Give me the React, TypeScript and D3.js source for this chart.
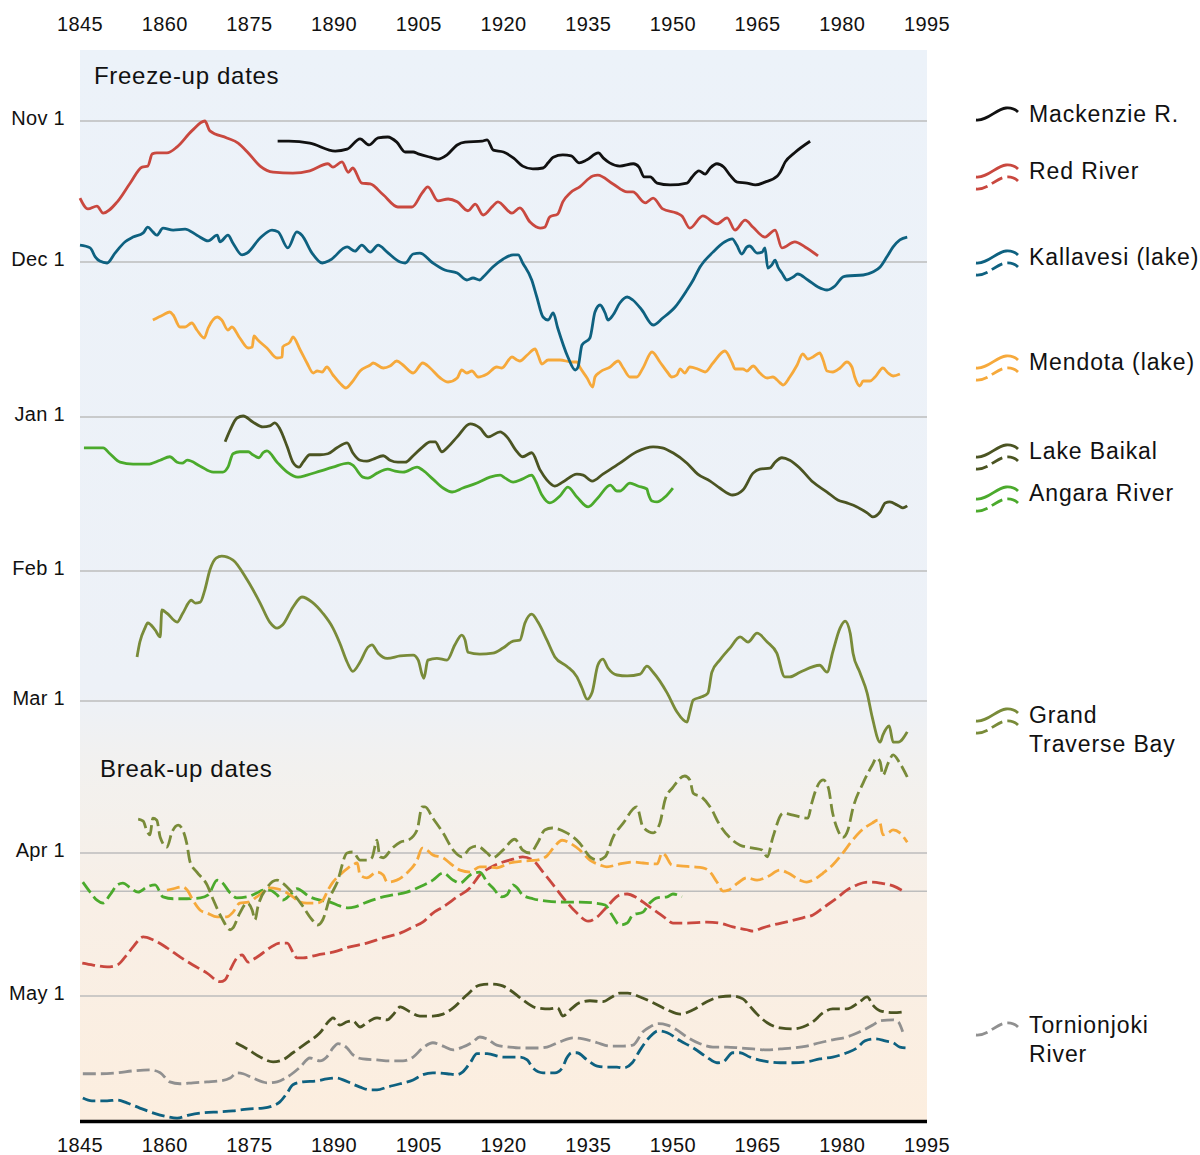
import React from 'react';
import * as d3 from 'd3';

// ---------- data: [year, days after Nov 1] ----------
const yearTicks = [1845, 1860, 1875, 1890, 1905, 1920, 1935, 1950, 1965, 1980, 1995];
const dateTickDays = [0, 30, 61, 92, 120, 151, 181];
const dateTickLabels = ['Nov 1', 'Dec 1', 'Jan 1', 'Feb 1', 'Mar 1', 'Apr 1', 'May 1'];
const extraGridDays = [159];

const mackenzieFreeze = [[1880.0,4.3],[1882,4.3],[1885.7,4.7],[1890.2,6.4],[1892.3,6.0],[1894.6,3.8],[1896.2,5.1],[1897.8,3.6],[1899.5,3.4],[1901.1,4.5],[1902.6,6.6],[1904,6.6],[1904.9,7.0],[1907,7.7],[1908.4,8.1],[1910,7.2],[1911.8,5.1],[1913.2,4.5],[1916.2,4.3],[1917.1,4.0],[1918.2,6.2],[1920,6.6],[1921.8,7.9],[1923.4,9.6],[1925.2,10.2],[1927,10.0],[1927.9,8.9],[1928.8,7.7],[1930.5,7.2],[1932,7.4],[1933.4,8.9],[1934.7,8.3],[1936.8,6.8],[1937.7,7.9],[1938.8,8.9],[1940.6,9.6],[1943,9.1],[1944,9.8],[1944.9,11.9],[1946,11.9],[1947.2,13.2],[1949.5,13.6],[1952.5,13.2],[1953.4,11.9],[1954.6,10.6],[1955.7,11.3],[1956.6,10.0],[1957.8,9.1],[1959,9.8],[1960.1,11.5],[1961.4,13.0],[1963.1,13.2],[1964.6,13.6],[1966.3,13.0],[1968.5,11.7],[1969,10.9],[1969.9,8.7],[1971.5,6.8],[1974.3,4.3]];

const redFreeze = [[1845,16.4],[1846.4,18.7],[1848,18.1],[1849.1,19.6],[1851.6,17.2],[1853.9,13.2],[1856,9.8],[1857,9.6],[1857.8,7.0],[1858.6,6.8],[1860.4,6.8],[1862.2,5.5],[1864.8,2.1],[1867.1,0.0],[1868,2.1],[1871,3.6],[1873,4.7],[1874.8,6.8],[1876.9,9.6],[1879.2,10.9],[1882.7,11.1],[1885.7,10.6],[1888.9,9.1],[1889.8,9.8],[1891.4,8.7],[1892.5,10.9],[1893.3,10.0],[1894.9,13.2],[1896.4,13.4],[1898.7,15.7],[1901.3,18.3],[1903.8,18.3],[1905.6,15.3],[1906.6,14.0],[1908.4,17.0],[1910.2,16.6],[1911.8,17.2],[1913.7,19.1],[1915,17.7],[1916.4,20.0],[1918.1,18.1],[1919,17.2],[1921.5,19.6],[1922.9,18.5],[1924.7,21.5],[1926.5,22.8],[1927.3,22.6],[1928.2,20.4],[1929.6,19.8],[1930.5,17.2],[1931.8,15.3],[1933.5,14.0],[1935.8,11.7],[1936.7,11.5],[1939.4,13.4],[1941.9,15.1],[1942.9,15.1],[1945.1,17.4],[1946.5,16.4],[1948.2,18.7],[1950.7,19.6],[1951.6,20.2],[1953,22.8],[1955.3,20.2],[1957.8,21.9],[1959.6,20.6],[1961,23.2],[1962.8,21.1],[1964.2,22.6],[1966.3,24.7],[1968.1,23.2],[1969.3,27.0],[1971.6,25.7],[1973.4,26.8],[1975.7,28.7]];

const kallavesiFreeze = [[1845,26.4],[1846.8,27.0],[1847.7,28.9],[1848.5,29.8],[1849.8,30.2],[1851.2,28.1],[1853,25.7],[1854.4,24.7],[1856.2,23.8],[1857,22.6],[1857.9,23.6],[1858.6,24.3],[1859.7,22.8],[1861.5,23.2],[1863.6,23.0],[1865.7,24.3],[1867.7,25.5],[1869.3,24.3],[1869.8,25.7],[1871.2,24.3],[1872.1,26.0],[1873.7,28.5],[1874.6,28.1],[1876.9,24.9],[1879,23.2],[1880.1,23.6],[1881.8,27.0],[1883.4,23.6],[1884.3,24.3],[1886.1,28.1],[1887.9,30.2],[1889.3,29.6],[1892.3,26.8],[1893.7,27.7],[1894.9,26.4],[1896.4,27.9],[1897.8,26.4],[1899.4,27.9],[1901.7,30.0],[1902.6,30.2],[1904,28.3],[1905.2,28.1],[1907.5,30.2],[1909.6,31.6],[1911.8,32.2],[1913.5,33.6],[1914.6,33.2],[1915.8,33.6],[1916.4,33.0],[1918.1,31.0],[1919.9,29.4],[1921.7,28.5],[1922.6,28.5],[1923.4,30.2],[1925,33.6],[1925.9,37.0],[1927,41.0],[1927.9,41.6],[1928.8,40.2],[1929.6,43.2],[1931.4,49.0],[1932.7,51.6],[1933.2,51.0],[1933.9,46.6],[1935.3,45.2],[1936.2,40.0],[1937.1,38.6],[1938,40.2],[1938.5,41.6],[1939.4,40.6],[1940.6,38.2],[1941.9,37.0],[1942.9,37.6],[1944.5,39.6],[1946.5,42.6],[1948.2,41.2],[1950.4,39.0],[1952.5,35.6],[1953.6,33.6],[1954.8,31.0],[1957.1,27.9],[1959.2,25.7],[1960.5,25.1],[1961.3,26.4],[1962.2,28.3],[1963.1,26.8],[1963.6,26.6],[1964.9,28.1],[1965.8,27.9],[1966.3,27.0],[1966.8,31.2],[1967.5,30.6],[1968.1,29.6],[1968.6,31.0],[1969.3,32.2],[1970.2,33.6],[1971.3,33.0],[1972.1,32.4],[1973.9,33.6],[1975.7,35.0],[1977.3,35.6],[1978.7,34.8],[1980.1,33.0],[1980.8,32.8],[1983.7,32.6],[1985.4,32.0],[1986.7,31.0],[1987.9,28.9],[1989,26.8],[1990.2,25.3],[1991.5,24.7]];

const mendotaFreeze = [[1857.9,41.6],[1859.7,40.6],[1860.9,40.0],[1861.5,40.6],[1862.7,43.0],[1863.6,43.0],[1864.8,42.2],[1865.7,43.6],[1867,45.2],[1867.7,43.2],[1869.3,41.0],[1870.1,41.6],[1871.2,43.6],[1871.9,43.0],[1873.3,45.2],[1874.8,47.2],[1875.5,47.0],[1875.8,44.8],[1876.5,45.6],[1878.1,47.2],[1879.9,49.2],[1880.8,49.0],[1880.9,47.0],[1882.2,46.0],[1882.7,45.0],[1884,47.6],[1885.2,50.2],[1886.3,52.2],[1887,51.8],[1887.9,52.0],[1888.7,51.0],[1889.8,52.6],[1891,54.2],[1892.1,55.2],[1893.2,54.0],[1894.6,51.8],[1896.4,50.6],[1896.9,50.2],[1898.7,51.2],[1899.9,50.8],[1901.1,49.8],[1902.2,50.6],[1904,52.2],[1905.7,50.2],[1907,51.2],[1908.8,53.2],[1910.2,54.0],[1911.8,53.2],[1912.6,51.6],[1913.5,52.2],[1914.4,51.8],[1915.5,53.0],[1917.1,52.4],[1918.8,51.0],[1919.7,51.2],[1921.5,49.0],[1922.4,49.6],[1922.9,49.8],[1924.2,48.6],[1925.6,47.4],[1926.1,48.6],[1926.8,50.4],[1927.9,49.6],[1930,49.6],[1932.1,50.0],[1933,50.0],[1933.5,51.0],[1934.8,53.2],[1935.8,55.0],[1936.2,53.0],[1937.1,52.0],[1938.9,51.0],[1940.3,49.8],[1941.2,51.2],[1942.4,53.0],[1943.6,53.0],[1944.7,51.2],[1946.3,48.0],[1947.7,50.0],[1949,52.0],[1949.8,53.0],[1950.7,52.6],[1951.3,51.4],[1952.1,52.2],[1953,51.0],[1954.4,51.4],[1955.7,52.0],[1957.1,50.2],[1959.2,47.8],[1960.5,50.2],[1961,51.4],[1962.4,51.4],[1963.1,51.8],[1964.2,50.8],[1965.4,52.2],[1966.7,53.2],[1967.7,53.0],[1969,54.2],[1969.5,54.6],[1970.7,53.0],[1972,50.6],[1973,48.4],[1973.9,49.4],[1974.8,49.0],[1976,48.2],[1976.6,49.6],[1977.3,51.8],[1978.3,52.0],[1979.6,51.2],[1980.8,50.0],[1981.7,51.0],[1982.2,53.0],[1983.1,54.8],[1983.7,53.8],[1984.9,53.8],[1985.8,53.0],[1987.2,51.2],[1988.1,52.2],[1989,52.8],[1990.2,52.4]];

const baikalFreeze = [[1870.7,66.0],[1871.6,63.6],[1872.8,61.2],[1873.9,60.8],[1875.6,62.0],[1877.4,63.0],[1878.6,62.8],[1879.5,62.2],[1880.4,63.4],[1881.7,67.0],[1882.7,70.1],[1883.8,71.1],[1884.5,70.1],[1885.7,68.6],[1887.5,68.6],[1888.9,68.4],[1890.5,67.2],[1892.3,66.2],[1893.3,68.2],[1894.6,69.7],[1895.8,69.9],[1896.9,69.5],[1898.7,68.8],[1899.9,69.7],[1901.3,70.1],[1902.6,70.1],[1904,68.8],[1905.7,67.0],[1907,66.0],[1907.9,66.0],[1909.1,68.0],[1910.2,67.0],[1911.8,65.0],[1914.1,62.4],[1915.8,63.2],[1917.3,65.0],[1919.4,64.0],[1920.6,65.0],[1922.4,68.0],[1923.4,69.0],[1925,68.2],[1926.5,71.7],[1927.7,73.7],[1929.1,74.9],[1930.5,74.1],[1933,72.5],[1934.1,72.7],[1935.7,73.9],[1937.6,72.5],[1940.6,70.3],[1943.6,68.0],[1946.5,67.0],[1948.1,67.2],[1950,68.2],[1952.5,70.3],[1954.4,72.5],[1956.6,73.9],[1958.3,75.3],[1960.6,76.7],[1962.4,75.7],[1964.2,72.3],[1965.4,71.5],[1967.2,71.3],[1968.1,70.1],[1969.3,69.2],[1970.7,69.7],[1972.5,71.3],[1974.8,74.1],[1977.3,76.1],[1979.2,77.7],[1980.8,78.3],[1982.6,79.1],[1984.4,80.3],[1985.4,81.1],[1986.7,80.1],[1987.6,78.3],[1988.4,78.1],[1989.7,78.7],[1990.7,79.3],[1991.5,78.9]];

const angaraFreeze = [[1845.7,67.2],[1849.1,67.2],[1850.3,68.4],[1852.1,70.1],[1854.4,70.5],[1857,70.5],[1859.2,69.7],[1860.9,69.0],[1862.2,70.1],[1863.1,70.3],[1864,69.7],[1866.3,70.9],[1868.6,72.1],[1870.3,72.1],[1871.2,71.1],[1872.1,68.4],[1873.3,68.0],[1874.8,68.0],[1875.6,68.6],[1876.7,69.2],[1877.4,68.2],[1878.1,67.8],[1879.9,70.1],[1881.7,72.1],[1883.6,73.1],[1885.2,72.7],[1887.5,71.9],[1889.8,71.1],[1892.5,70.3],[1893.3,70.7],[1895.1,73.1],[1896,73.3],[1897.6,72.3],[1899.5,71.5],[1900.8,71.9],[1902.2,72.1],[1904.7,71.1],[1905.7,71.7],[1907.5,73.5],[1909.3,75.3],[1910.9,76.1],[1912.8,75.3],[1915.3,74.3],[1917.6,73.1],[1919.4,72.7],[1920.3,73.3],[1921.7,74.1],[1923.3,73.5],[1925,72.7],[1925.6,73.7],[1926.8,76.7],[1928.2,78.3],[1930,76.9],[1931.4,75.1],[1933,77.1],[1935,79.1],[1936.7,77.3],[1938.9,74.7],[1940.1,75.9],[1940.6,75.9],[1942.4,74.3],[1943.8,74.9],[1945.4,75.5],[1945.6,76.3],[1946.3,77.9],[1947.2,78.1],[1948.6,77.1],[1950,75.3]];

const gtbFreeze = [[1855.1,110.5],[1855.6,107.3],[1856.5,104.3],[1857,103.2],[1858.3,104.7],[1859.2,106.2],[1859.5,100.4],[1860.4,101.1],[1862.2,103.0],[1863.2,101.1],[1864.7,98.3],[1865.4,98.9],[1866.3,98.7],[1867.1,96.1],[1868,91.8],[1869.1,89.4],[1870.1,89.0],[1872.1,89.8],[1874.6,93.9],[1876.9,98.9],[1878.6,103.0],[1879.9,104.3],[1880.9,103.6],[1882.7,99.8],[1884.3,97.6],[1886.1,98.7],[1888,101.1],[1889.8,104.3],[1891,107.5],[1892.3,111.6],[1893.3,113.6],[1894.6,111.6],[1896,108.4],[1896.7,107.9],[1897.8,109.7],[1899.4,110.8],[1901.7,110.3],[1904,110.1],[1904.9,111.2],[1905.6,114.4],[1905.9,115.1],[1906.6,111.2],[1908.2,110.8],[1910,111.2],[1911.4,107.9],[1912.6,105.8],[1913.2,106.9],[1913.7,109.5],[1915.8,109.9],[1918.1,109.7],[1919.9,108.6],[1921.7,107.1],[1922.9,106.9],[1923.8,103.2],[1925,101.3],[1926.1,103.0],[1927.7,106.9],[1929.1,110.5],[1931.2,112.5],[1933,114.8],[1933.9,117.2],[1934.8,119.6],[1935.7,118.1],[1936.7,112.3],[1937.6,111.0],[1938.5,112.9],[1940.1,114.4],[1941.9,114.6],[1944.2,114.2],[1945.4,112.5],[1946.5,113.8],[1949,118.3],[1950.7,122.2],[1952.5,124.3],[1953,122.2],[1953.6,119.8],[1955.1,119.1],[1956.2,118.3],[1956.9,113.8],[1958.3,111.2],[1960.1,108.6],[1961.9,106.2],[1963.3,107.3],[1964.9,105.4],[1966.7,107.3],[1968.4,109.7],[1969.8,114.8],[1970.7,114.8],[1972.5,113.8],[1976,112.3],[1977.3,113.8],[1978.3,109.5],[1979.6,104.3],[1980.5,102.8],[1981.4,105.4],[1981.9,109.7],[1983.1,113.8],[1984.4,118.3],[1985.3,123.3],[1986.7,128.4],[1987.2,126.9],[1988.3,125.1],[1989,128.4],[1989.9,128.4],[1991.5,126.3]];

const gtbBreak = [[1855.3,144.1],[1856.2,144.5],[1856.9,146.7],[1857.4,147.3],[1857.9,143.9],[1858.6,144.3],[1859.2,147.8],[1860.4,149.8],[1861.3,146.7],[1862.4,145.3],[1863.2,146.3],[1863.9,149.0],[1864.5,152.9],[1865.7,155.0],[1867.5,157.7],[1868.6,160.8],[1870.1,164.6],[1871.6,167.1],[1872.1,166.7],[1873.3,163.6],[1874.6,161.5],[1875.5,163.0],[1876,165.0],[1876.5,162.3],[1878.1,158.3],[1879.9,156.7],[1880.9,157.3],[1882.5,159.2],[1884.3,161.9],[1886.1,165.0],[1887.1,166.1],[1888,165.0],[1889.3,160.2],[1890.5,157.3],[1892.3,151.0],[1893.3,150.8],[1894.6,152.5],[1895.8,152.5],[1896.7,152.0],[1897.6,148.4],[1898.1,151.8],[1898.7,152.0],[1900.3,150.0],[1901.7,148.8],[1903.1,148.4],[1904.7,146.3],[1905.6,141.6],[1906.1,141.6],[1907.5,143.9],[1909.3,146.9],[1911.1,150.4],[1912.6,151.8],[1914.1,150.0],[1915.3,149.6],[1917.1,151.0],[1918.1,152.0],[1919.9,150.4],[1922,148.2],[1923.4,150.4],[1924.7,151.0],[1926.1,148.8],[1927.3,146.3],[1928.6,145.9],[1931.2,146.9],[1933.5,149.0],[1935.3,151.8],[1936.7,152.5],[1938,151.8],[1939.4,147.8],[1941.2,144.9],[1943.6,141.6],[1944.7,145.7],[1946.5,146.9],[1947.7,144.9],[1948.6,140.2],[1950,137.6],[1952.1,135.3],[1953,136.1],[1953.6,138.8],[1955.1,139.6],[1956.6,141.6],[1958.3,145.3],[1960.1,147.9],[1961.9,149.4],[1964.2,150.0],[1965.8,150.4],[1966.7,151.8],[1967.7,147.8],[1969.5,142.9],[1971.3,143.3],[1973.9,143.9],[1974.6,140.8],[1975.5,137.6],[1976.6,136.1],[1977.5,137.6],[1978.3,142.9],[1979.2,146.3],[1980.1,147.8],[1981,146.3],[1981.9,141.8],[1983.7,136.7],[1985.3,133.1],[1986.1,131.6],[1986.7,132.4],[1987.2,135.1],[1988.1,132.7],[1989,131.0],[1990.2,132.7],[1991.5,135.5]];

const mendotaBreak = [[1860.4,158.8],[1861.5,158.5],[1863.1,158.1],[1864,158.8],[1865,160.9],[1866.3,163.0],[1867.5,163.6],[1869.3,164.4],[1871,164.4],[1872.1,163.4],[1873.3,161.5],[1874.8,161.3],[1876.3,160.2],[1877.4,159.2],[1878.6,158.3],[1879.9,158.5],[1881.7,159.4],[1882.7,160.2],[1884,161.3],[1885.2,161.5],[1887,161.5],[1888,160.9],[1888.9,158.8],[1889.8,157.1],[1891,155.6],[1892.5,154.1],[1893.3,153.5],[1894.1,153.1],[1894.6,155.6],[1895.8,156.2],[1897.6,155.0],[1898.7,155.6],[1899.4,157.1],[1901.1,156.7],[1902.9,155.2],[1904.7,152.5],[1905.6,150.0],[1906.4,150.4],[1907.5,151.4],[1909.3,152.0],[1910.5,153.1],[1912.3,154.6],[1914.1,155.0],[1915.8,153.9],[1917.3,153.9],[1918.8,154.1],[1921.1,153.1],[1923.4,152.7],[1925.9,152.5],[1927.7,151.6],[1928.8,150.0],[1930.4,148.4],[1931.8,149.0],[1933.5,150.4],[1935.3,152.5],[1937.1,153.5],[1938.3,153.9],[1940.6,153.3],[1942.9,152.9],[1944.7,153.1],[1947.2,153.3],[1948.1,151.0],[1948.6,151.4],[1949.8,153.5],[1951.3,153.7],[1953.6,153.9],[1955.3,154.1],[1956.6,155.0],[1957.8,157.1],[1958.9,159.0],[1959.8,158.8],[1961.5,157.3],[1963.1,156.2],[1964.9,156.7],[1966.7,156.0],[1969,154.6],[1970.4,155.2],[1972.5,156.7],[1973.7,157.1],[1974.8,156.7],[1976.6,155.2],[1978.3,153.5],[1980.1,151.0],[1981.4,149.0],[1983.1,146.7],[1985.3,144.9],[1986.3,144.3],[1986.7,144.9],[1987.2,147.3],[1988.1,146.9],[1989,146.3],[1990.2,146.9],[1991.5,148.8]];

const angaraBreak = [[1845.5,157.1],[1846.8,159.2],[1848,160.9],[1849.1,161.5],[1850.3,159.8],[1851.6,157.7],[1852.6,157.3],[1853.9,158.3],[1855.3,159.2],[1856.9,158.1],[1858.3,157.7],[1859.7,160.2],[1861.5,160.6],[1863.9,160.6],[1866.3,160.4],[1867.7,159.8],[1869.3,156.7],[1870.1,157.1],[1871.6,159.4],[1872.8,160.4],[1874.6,160.2],[1876.3,159.4],[1877.4,158.8],[1878.6,158.8],[1879.9,159.8],[1880.9,160.9],[1882.2,159.8],[1883.4,158.5],[1885.7,160.2],[1887.5,160.9],[1889.3,161.3],[1891,162.1],[1892.5,162.5],[1893.7,162.3],[1895.8,161.3],[1898.1,160.4],[1900.4,159.8],[1902.9,159.2],[1905.2,158.1],[1907.5,156.7],[1909.3,155.2],[1911.1,156.7],[1912.3,157.3],[1914.1,155.6],[1915.8,155.0],[1917.1,157.1],[1918.1,158.3],[1919.7,160.2],[1920.6,159.8],[1921.7,157.7],[1922.4,158.3],[1923.4,159.8],[1925.2,160.6],[1927.7,161.1],[1931.2,161.3],[1933.5,161.3],[1936.2,161.5],[1938,161.9],[1939.2,164.0],[1940.6,166.1],[1941.9,165.7],[1942.9,164.0],[1944.7,163.4],[1945.9,161.5],[1947.2,160.4],[1949,160.2],[1950,159.6],[1951.6,160.2]];

const redBreak = [[1845.4,174.1],[1847.3,174.5],[1849.8,174.9],[1851.6,174.5],[1853,172.8],[1854.4,170.7],[1856.2,168.6],[1857.9,169.2],[1860.4,170.9],[1862.7,172.8],[1865,174.5],[1867.5,176.2],[1869.8,178.0],[1870.7,177.6],[1871.6,175.5],[1872.8,173.0],[1873.7,172.4],[1874.8,173.9],[1875.6,173.4],[1876.9,172.4],[1878.6,170.9],[1880.4,169.9],[1881.7,169.9],[1882.7,171.8],[1883.4,173.0],[1884.5,173.0],[1887,172.4],[1889.8,171.8],[1892.8,170.7],[1895.8,169.9],[1898.7,168.8],[1901.7,167.8],[1904,166.5],[1905.7,165.5],[1907.5,163.6],[1909.3,162.3],[1911.8,160.2],[1914.1,158.3],[1915.8,155.6],[1917.6,154.1],[1919.4,153.1],[1921.7,152.3],[1923.4,151.8],[1925.2,152.5],[1927,155.0],[1928.8,157.7],[1930.9,160.9],[1933,163.6],[1935,165.3],[1936.6,164.4],[1938.3,162.3],[1940.6,159.8],[1941.9,159.6],[1943.6,160.4],[1945.4,161.9],[1947.2,163.4],[1948.6,164.6],[1950,165.7],[1952.5,165.7],[1956,165.5],[1958.3,165.7],[1960.6,166.5],[1963.1,167.1],[1964.2,167.4],[1965.9,166.7],[1967.7,166.1],[1970.7,165.3],[1973,164.6],[1974.8,164.0],[1976.6,162.5],[1979.1,160.4],[1980.8,158.8],[1982.6,157.7],[1984.4,157.1],[1986.7,157.3],[1989,157.9],[1991.1,159.2]];

const baikalBreak = [[1872.6,190.8],[1874.6,192.1],[1876.9,193.8],[1879.2,194.8],[1880.9,194.4],[1882.7,192.9],[1885.2,190.8],[1887.5,188.7],[1889.3,186.0],[1889.8,185.6],[1891,187.1],[1892.3,186.4],[1893.3,186.2],[1894.6,187.5],[1895.8,186.6],[1897.6,185.6],[1899.4,186.0],[1900.4,185.0],[1901.7,183.3],[1903.4,184.3],[1905.2,185.2],[1907.5,185.2],[1909.3,184.8],[1911.1,183.5],[1913.5,180.8],[1915.8,178.7],[1917.6,178.5],[1919.4,178.7],[1921.1,179.7],[1923.4,181.8],[1925.9,183.5],[1928.2,183.7],[1929.6,183.5],[1930.5,185.2],[1931.8,183.9],[1933.5,182.4],[1935.3,182.0],[1937.6,182.2],[1939.2,181.2],[1940.6,180.4],[1942,180.4],[1944.2,181.2],[1946.5,182.4],[1949,183.9],[1951.3,184.8],[1953.6,183.9],[1956,182.2],[1958.3,181.2],[1960.6,181.0],[1962.4,181.6],[1963.6,183.1],[1964.9,184.8],[1966.7,186.6],[1969,187.7],[1971.3,187.9],[1973,187.5],[1974.8,186.4],[1976.6,184.5],[1978.3,183.7],[1980.8,183.7],[1983.1,182.2],[1984.4,181.2],[1985.4,182.9],[1986.7,184.1],[1989,184.5],[1991.1,184.3]];

const tornioBreak = [[1845.5,197.3],[1848.5,197.3],[1851.6,197.1],[1854.4,196.7],[1857.4,196.5],[1859.2,197.1],[1860.9,199.0],[1862.7,199.4],[1865,199.2],[1867.5,199.0],[1869.8,198.8],[1871.6,198.2],[1872.8,197.1],[1873.9,197.3],[1875.6,198.2],[1878.1,199.2],[1879.9,199.0],[1881.7,198.0],[1884,195.9],[1885.7,194.0],[1887.5,194.6],[1888.7,193.8],[1889.8,191.9],[1890.7,191.0],[1892.3,191.9],[1893.3,193.3],[1895.1,194.2],[1897.6,194.4],[1899.9,194.6],[1902.2,194.6],[1904,193.8],[1905.7,191.9],[1907.5,190.8],[1909.3,191.5],[1911.1,192.3],[1912.8,191.7],[1914.6,190.6],[1915.8,189.6],[1917.1,190.0],[1918.8,191.3],[1921.1,191.7],[1923.4,191.9],[1926.1,191.9],[1927.7,191.7],[1930,190.6],[1932.3,189.8],[1934.1,190.0],[1936.6,190.8],[1938.9,191.5],[1941.2,191.5],[1942.9,191.3],[1944.7,188.5],[1945.9,187.5],[1947.4,186.8],[1949,187.1],[1950.7,188.1],[1952.5,189.6],[1954.8,191.0],[1957.1,191.7],[1959.6,191.7],[1961.9,191.9],[1964.2,192.1],[1966.7,192.3],[1969,192.1],[1971.3,191.9],[1973.7,191.5],[1976,190.8],[1978.3,190.2],[1980.8,189.6],[1983.1,188.5],[1985.4,187.1],[1986.7,186.2],[1989,186.0],[1989.9,186.4],[1990.7,188.5]];

const kallavesiBreak = [[1845.5,202.4],[1847.1,203.0],[1849.8,203.0],[1851.6,202.8],[1853.3,203.4],[1855.6,204.5],[1857.9,205.5],[1860.4,206.3],[1862.2,206.6],[1864.5,205.9],[1866.8,205.5],[1869.8,205.3],[1872.1,205.1],[1874.6,204.7],[1877.4,204.5],[1879.2,204.0],[1880.4,203.2],[1881.7,201.3],[1882.7,199.6],[1884.5,199.0],[1887,198.8],[1888.7,198.4],[1890.5,198.2],[1891.6,198.6],[1892.8,199.2],[1894.6,200.1],[1896.4,200.7],[1897.6,200.7],[1899.4,200.1],[1901.7,199.4],[1904,198.6],[1905.7,197.5],[1907.5,197.1],[1910,197.3],[1911.8,197.5],[1912.8,196.9],[1914.1,195.0],[1915.3,193.1],[1917.1,193.1],[1919.9,193.8],[1922.9,193.8],[1924.2,194.4],[1925.2,196.1],[1927,197.1],[1929.1,197.1],[1930.4,196.1],[1931.2,194.0],[1932.1,192.9],[1933,192.9],[1934.8,194.4],[1936.6,195.7],[1938.3,195.9],[1940.1,195.9],[1941.2,196.1],[1942.8,195.0],[1944.2,192.3],[1945.9,189.6],[1947.4,188.3],[1949,188.7],[1951.3,190.4],[1953.6,191.9],[1956,193.8],[1957.8,195.0],[1958.9,194.8],[1960.6,192.9],[1961.9,192.9],[1963.6,193.8],[1966,194.6],[1969,195.0],[1971.3,195.0],[1973.7,194.8],[1976,194.2],[1978.3,193.8],[1980.8,192.9],[1982.6,191.9],[1984,190.4],[1985.8,190.0],[1987.6,190.4],[1989,190.8],[1990.2,191.7],[1991.5,191.9]];

// ---------- styling ----------
const C = {
  mackenzie: '#111111',
  red: '#C9483F',
  kallavesi: '#0E6180',
  mendota: '#F6A93B',
  baikal: '#4B5422',
  angara: '#4BAA2C',
  gtb: '#798B39',
  tornio: '#909090',
};

const series = [
  { data: tornioBreak, color: C.tornio, dashed: true },
  { data: kallavesiBreak, color: C.kallavesi, dashed: true },
  { data: baikalBreak, color: C.baikal, dashed: true },
  { data: redBreak, color: C.red, dashed: true },
  { data: angaraBreak, color: C.angara, dashed: true },
  { data: mendotaBreak, color: C.mendota, dashed: true },
  { data: gtbBreak, color: C.gtb, dashed: true },
  { data: gtbFreeze, color: C.gtb, dashed: false },
  { data: angaraFreeze, color: C.angara, dashed: false },
  { data: baikalFreeze, color: C.baikal, dashed: false },
  { data: mendotaFreeze, color: C.mendota, dashed: false },
  { data: kallavesiFreeze, color: C.kallavesi, dashed: false },
  { data: redFreeze, color: C.red, dashed: false },
  { data: mackenzieFreeze, color: C.mackenzie, dashed: false },
];

const legendNames = [['Mackenzie R.'], ['Red River'], ['Kallavesi (lake)'], ['Mendota (lake)'], ['Lake Baikal'], ['Angara River'], ['Grand', 'Traverse Bay'], ['Tornionjoki', 'River']];
const legendColors = [C.mackenzie, C.red, C.kallavesi, C.mendota, C.baikal, C.angara, C.gtb, C.tornio];
const legendKinds = ['solid', 'both', 'both', 'both', 'both', 'both', 'both', 'dashed'];
const legendTextY = [122, 179, 265, 370, 459, 501, 723, 1033];

const FONT = "'Liberation Sans', Arial, Helvetica, sans-serif";
const PLOT = { x0: 80, x1: 927, y0: 50, y1: 1120 };

const x = d3.scaleLinear().domain([1845, 1995]).range([PLOT.x0, PLOT.x1]);
const y = d3.scaleLinear()
  .domain([0, 30, 61, 92, 120, 151, 181, 207])
  .range([121, 262, 417, 571, 701, 853, 996, 1120]);

const line = d3.line<number[]>()
  .x((d) => x(d[0]))
  .y((d) => y(d[1]))
  .curve(d3.curveMonotoneX);

function wave(x0: number, y0: number) {
  const p = d3.path();
  p.moveTo(x0, y0 + 12);
  p.bezierCurveTo(x0 + 12, y0 + 13, x0 + 20, y0 + 1, x0 + 30, y0);
  p.bezierCurveTo(x0 + 36, y0 - 0.5, x0 + 39, y0 + 1, x0 + 42, y0 + 4);
  return p.toString();
}

const DASH = '13 5';
const SW = 2.8;

export default function App() {
  return (
    <svg width={1200} height={1155} viewBox="0 0 1200 1155"
      style={{ position: 'absolute', left: 0, top: 0, background: '#fff' }}
      fontFamily={FONT}>
      <defs>
        <linearGradient id="bg" gradientUnits="userSpaceOnUse" x1="0" y1={PLOT.y0} x2="0" y2={PLOT.y1}>
          <stop offset="0" stopColor="#ECF2F9" />
          <stop offset="0.6" stopColor="#EDF1F7" />
          <stop offset="0.67" stopColor="#F2F1EF" />
          <stop offset="0.8" stopColor="#F8EFE6" />
          <stop offset="1" stopColor="#FCEEDF" />
        </linearGradient>
      </defs>
      <rect x={PLOT.x0} y={PLOT.y0} width={PLOT.x1 - PLOT.x0} height={PLOT.y1 - PLOT.y0} fill="url(#bg)" />

      {/* gridlines */}
      {[...dateTickDays, ...extraGridDays].map((d) => (
        <line key={'g' + d} x1={PLOT.x0} x2={PLOT.x1} y1={y(d)} y2={y(d)} stroke="#BDBDBD" strokeWidth={1.5} />
      ))}

      {/* y labels */}
      {dateTickDays.map((d, i) => (
        <text key={'yl' + d} x={65} y={y(d) + 4} textAnchor="end" fontSize={20} letterSpacing={0.3} fill="#111">{dateTickLabels[i]}</text>
      ))}

      {/* x labels top and bottom */}
      {yearTicks.map((t) => (
        <g key={'xt' + t}>
          <text x={x(t)} y={31} textAnchor="middle" fontSize={20} letterSpacing={0.4} fill="#111">{t}</text>
          <text x={x(t)} y={1152} textAnchor="middle" fontSize={20} letterSpacing={0.4} fill="#111">{t}</text>
        </g>
      ))}

      {/* section titles */}
      <text x={94} y={84} fontSize={24} letterSpacing={0.7} fill="#111">Freeze-up dates</text>
      <text x={100} y={777} fontSize={24} letterSpacing={0.7} fill="#111">Break-up dates</text>

      {/* series */}
      {series.map((s, i) => (
        <path key={'s' + i} d={line(s.data) || ''} fill="none" stroke={s.color} strokeWidth={SW}
          strokeDasharray={s.dashed ? DASH : undefined} strokeLinejoin="round" strokeLinecap="butt" />
      ))}

      {/* bottom axis line */}
      <line x1={PLOT.x0} x2={PLOT.x1} y1={1121.5} y2={1121.5} stroke="#000" strokeWidth={3.5} />

      {/* legend */}
      {legendNames.map((names, i) => {
        const ty = legendTextY[i];
        const kind = legendKinds[i];
        const solidTop = ty - 14;
        const dashTop = kind === 'dashed' ? ty - 10 : solidTop + 12;
        return (
          <g key={'lg' + i}>
            {kind !== 'dashed' && (
              <path d={wave(976, solidTop)} fill="none" stroke={legendColors[i]} strokeWidth={SW} />
            )}
            {kind !== 'solid' && (
              <path d={wave(976, dashTop)} fill="none" stroke={legendColors[i]} strokeWidth={SW} strokeDasharray="12 5" />
            )}
            {names.map((n, j) => (
              <text key={j} x={1029} y={ty + j * 29} fontSize={23} letterSpacing={0.9} fill="#111">{n}</text>
            ))}
          </g>
        );
      })}
    </svg>
  );
}
